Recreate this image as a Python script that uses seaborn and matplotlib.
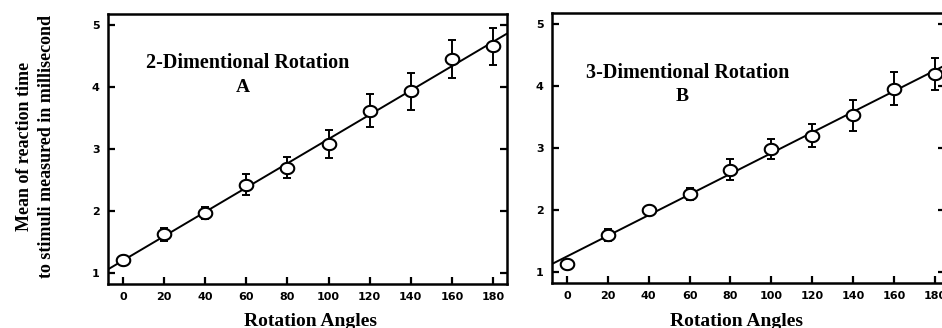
import numpy as np
import pandas as pd
import matplotlib
matplotlib.use("Agg")
import matplotlib.pyplot as plt
from matplotlib.path import Path
from matplotlib.markers import MarkerStyle
import seaborn as sns

sns.set_theme(style="white")
plt.rcParams['font.family'] = ['DejaVu Sans']
plt.rcParams['text.color'] = 'black'

angles = [0, 20, 40, 60, 80, 100, 120, 140, 160, 180]
mean_2d = [1.20, 1.62, 1.97, 2.42, 2.70, 3.08, 3.62, 3.93, 4.45, 4.66]
err_2d = [0.04, 0.10, 0.10, 0.17, 0.17, 0.23, 0.27, 0.30, 0.31, 0.30]
mean_3d = [1.12, 1.60, 2.00, 2.26, 2.65, 2.98, 3.20, 3.53, 3.96, 4.20]
err_3d = [0.0, 0.10, 0.0, 0.10, 0.17, 0.16, 0.18, 0.25, 0.26, 0.26]
titles = ["2-Dimentional Rotation", "3-Dimentional Rotation"]
letters = ["A", "B"]
xticks = [0, 20, 40, 60, 80, 100, 120, 140, 160, 180]
yticks = [1, 2, 3, 4, 5]

# elliptical open marker
t = np.linspace(0, 2 * np.pi, 60)
ell = Path(np.column_stack([1.2 * np.cos(t), np.sin(t)]), closed=True)
ell_marker = MarkerStyle(ell)

fig = plt.figure(figsize=(9.42, 3.28), dpi=100)
axA = fig.add_axes([108 / 942, 1 - 284 / 328, 399 / 942, 270 / 328])
axB = fig.add_axes([552 / 942, 1 - 283 / 328, 393 / 942, 270 / 328])

serif = ['Liberation Serif', 'DejaVu Serif']

panels = [
    (axA, mean_2d, err_2d, titles[0], letters[0], (0.351, 0.818), (0.338, 0.726), 186.8),
    (axB, mean_3d, err_3d, titles[1], letters[1], (0.346, 0.778), (0.331, 0.689), 185.0),
]

for ax, means, errs, title, letter, tpos, lpos, xr in panels:
    df = pd.DataFrame({"angle": angles, "rt": means, "err": errs})
    ax.set_xlim(-7.3, xr)
    ax.set_ylim(0.82, 5.18)
    sns.regplot(data=df, x="angle", y="rt", ax=ax, scatter=False, ci=None,
                truncate=False, line_kws=dict(color="black", lw=1.4))
    ax.errorbar(df["angle"], df["rt"], yerr=df["err"], fmt="none",
                ecolor="black", elinewidth=1.4, capsize=3, capthick=1.4, zorder=3)
    sns.scatterplot(data=df, x="angle", y="rt", ax=ax, marker=ell_marker, s=95,
                    facecolor="white", edgecolor="black", linewidth=1.5, zorder=4)
    ax.set_xlim(-7.3, xr)
    ax.set_ylim(0.82, 5.18)
    ax.set_xticks(xticks)
    ax.set_yticks(yticks)
    ax.tick_params(direction="in", length=5, width=1.6, colors="black",
                   labelsize=8, pad=6, right=True, left=True, bottom=True)
    for lab in ax.get_xticklabels() + ax.get_yticklabels():
        lab.set_fontweight("bold")
    for sp in ax.spines.values():
        sp.set_visible(True)
        sp.set_color("black")
        sp.set_linewidth(1.8)
    ax.set_xlabel("")
    ax.set_ylabel("")
    ax.text(tpos[0], tpos[1], title, transform=ax.transAxes, ha="center",
            va="center", fontsize=14.5, fontweight="bold", family=serif)
    ax.text(lpos[0], lpos[1], letter, transform=ax.transAxes, ha="center",
            va="center", fontsize=14, fontweight="bold", family=serif)

fig.text(310 / 942, 1 - 321 / 328, "Rotation Angles", ha="center", va="center",
         fontsize=14, fontweight="bold", family=serif)
fig.text(737 / 942, 1 - 321 / 328, "Rotation Angles", ha="center", va="center",
         fontsize=14, fontweight="bold", family=serif)
fig.text(25 / 942, 1 - 146 / 328, "Mean of reaction time", rotation=90,
         ha="center", va="center", fontsize=13, fontweight="bold", family=serif)
fig.text(47 / 942, 1 - 146 / 328, "to stimuli measured in millisecond", rotation=90,
         ha="center", va="center", fontsize=13, fontweight="bold", family=serif)

fig.savefig("out.png", dpi=100)
